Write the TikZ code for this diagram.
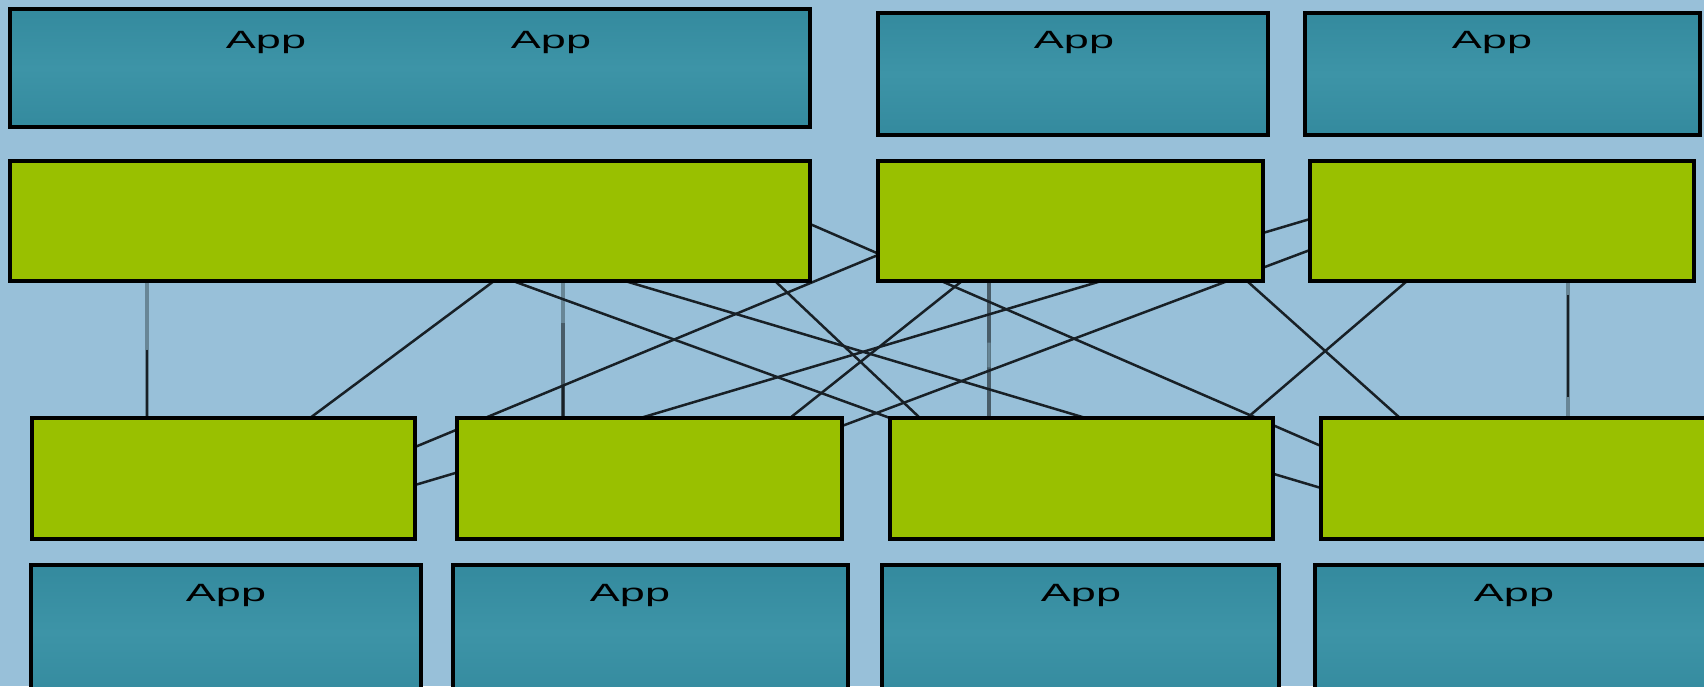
\documentclass[tikz,border=0pt]{standalone}
\usepackage{fontspec}
\setmainfont{Liberation Sans}
\usepackage{graphicx}
\usepackage{xcolor}
\definecolor{netbg}{RGB}{152,192,217}
\definecolor{tealdark}{RGB}{52,138,158}
\definecolor{teallight}{RGB}{61,148,167}
\definecolor{swgreen}{RGB}{153,192,0}
\definecolor{linkdark}{RGB}{24,32,38}
\definecolor{linkgrey}{RGB}{104,134,150}
\definecolor{linkmid}{RGB}{72,92,104}
\usetikzlibrary{calc,backgrounds}

\begin{document}
\begin{tikzpicture}[x=0.5pt, y=-0.5pt,
    appbox/.style={draw=black, line width=1.7pt, inner sep=0pt, outer sep=0pt,
        top color=tealdark, bottom color=tealdark, middle color=teallight},
    swbox/.style={draw=black, line width=1.7pt, inner sep=0pt, outer sep=0pt, fill=swgreen},
    applabel/.style={font=\fontsize{12.5}{15}\selectfont, anchor=base, inner sep=0pt},
    link/.style={linkdark, line width=1.25pt},
    greylink/.style={linkgrey, line width=1.7pt}]
    \useasboundingbox (0,0) rectangle (1704,686);
    \clip (0,0) rectangle (1704,686);

    % App servers, top row
    \node[appbox, minimum width=400pt, minimum height=59pt] (appA) at (410,68) {};
    \node[appbox, minimum width=195pt, minimum height=61pt] (appB) at (1073,74) {};
    \node[appbox, minimum width=197.5pt, minimum height=61pt] (appC) at (1502.5,74) {};

    % Upper switches
    \node[swbox, minimum width=400pt, minimum height=60pt] (sw1) at (410,221) {};
    \node[swbox, minimum width=192.5pt, minimum height=60pt] (sw2) at (1070.5,221) {};
    \node[swbox, minimum width=192pt, minimum height=60pt] (sw3) at (1502,221) {};

    % Lower switches
    \node[swbox, minimum width=191.5pt, minimum height=60.5pt] (lsw1) at (223.5,478.5) {};
    \node[swbox, minimum width=192.5pt, minimum height=60.5pt] (lsw2) at (649.5,478.5) {};
    \node[swbox, minimum width=191.5pt, minimum height=60.5pt] (lsw3) at (1081.5,478.5) {};
    \node[swbox, minimum width=192.5pt, minimum height=60.5pt] (lsw4) at (1513.5,478.5) {};

    % App servers, bottom row
    \node[appbox, minimum width=195pt, minimum height=67.5pt] (appD) at (226,632.5) {};
    \node[appbox, minimum width=197.5pt, minimum height=67.5pt] (appE) at (650.5,632.5) {};
    \node[appbox, minimum width=198.5pt, minimum height=67.5pt] (appF) at (1080.5,632.5) {};
    \node[appbox, minimum width=198.5pt, minimum height=67.5pt] (appG) at (1513.5,632.5) {};

    % Labels
    \node[applabel] (labA1) at (266,48) {\scalebox{1.8}[1]{App}};
    \node[applabel] (labA2) at (551,48) {\scalebox{1.8}[1]{App}};
    \node[applabel] (labB) at (1074,48) {\scalebox{1.8}[1]{App}};
    \node[applabel] (labC) at (1492,48) {\scalebox{1.8}[1]{App}};
    \node[applabel] (labD) at (226,601) {\scalebox{1.8}[1]{App}};
    \node[applabel] (labE) at (630,601) {\scalebox{1.8}[1]{App}};
    \node[applabel] (labF) at (1081,601) {\scalebox{1.8}[1]{App}};
    \node[applabel] (labG) at (1514,601) {\scalebox{1.8}[1]{App}};

    % Links, kept behind the boxes
    \begin{scope}[on background layer]
        \fill[netbg] (0,0) rectangle (1704,686);

        % straight uplinks
        \draw[greylink] ($(sw1.south west)+(137,0)$) coordinate (v1a) -- ($(lsw1.north west)+(115,0)$) coordinate (v1b);
        \draw[link] ($(v1a)!0.5!(v1b)$) -- (v1b);
        \draw[greylink] ($(sw1.south west)+(553,0)$) coordinate (v2a) -- ($(lsw2.north west)+(106,0)$) coordinate (v2b);
        \draw[greylink, linkmid] ($(v2a)!0.31!(v2b)$) -- (v2b);
        \draw[link] ($(v2a)!0.76!(v2b)$) -- (v2b);
        \draw[greylink, linkmid] ($(sw2.south west)+(111,0)$) coordinate (v3a) -- ($(lsw3.north west)+(99,0)$) coordinate (v3b);
        \draw[greylink] ($(v3a)!0.45!(v3b)$) -- ($(v3a)!0.63!(v3b)$);
        \draw[greylink] ($(sw3.south west)+(258,0)$) coordinate (v4a) -- ($(lsw4.north west)+(247,0)$) coordinate (v4b);
        \draw[link] ($(v4a)!0.1!(v4b)$) -- ($(v4a)!0.85!(v4b)$);

        % cross links
        \draw[link] ($(sw1.south west)+(484,0)$) -- ($(lsw1.north west)+(278,0)$);
        \draw[link] ($(sw1.south west)+(503,0)$) -- (lsw3.north west);
        \draw[link] ($(sw1.south west)+(615,0)$) -- ($(lsw4.north west)+(0,70)$);
        \draw[link] ($(sw1.south west)+(765,0)$) -- ($(lsw3.north west)+(30,0)$);
        \draw[link] ($(sw1.north east)+(0,63)$) -- ($(lsw4.north west)+(0,28)$);
        \draw[link] ($(lsw1.north east)+(0,29)$) -- ($(sw2.north west)+(0,94)$);
        \draw[link] ($(lsw1.north east)+(0,67)$) -- ($(sw3.north west)+(0,58)$);
        \draw[link] ($(lsw2.north west)+(333,0)$) -- ($(sw2.south west)+(84,0)$);
        \draw[link] ($(lsw2.north east)+(0,8)$) -- ($(sw3.north west)+(0,89)$);
        \draw[link] ($(lsw3.north west)+(357,0)$) -- ($(sw3.south west)+(97,0)$);
        \draw[link] ($(sw2.south west)+(369,0)$) -- ($(lsw4.north west)+(79,0)$);
    \end{scope}
\end{tikzpicture}
\end{document}
